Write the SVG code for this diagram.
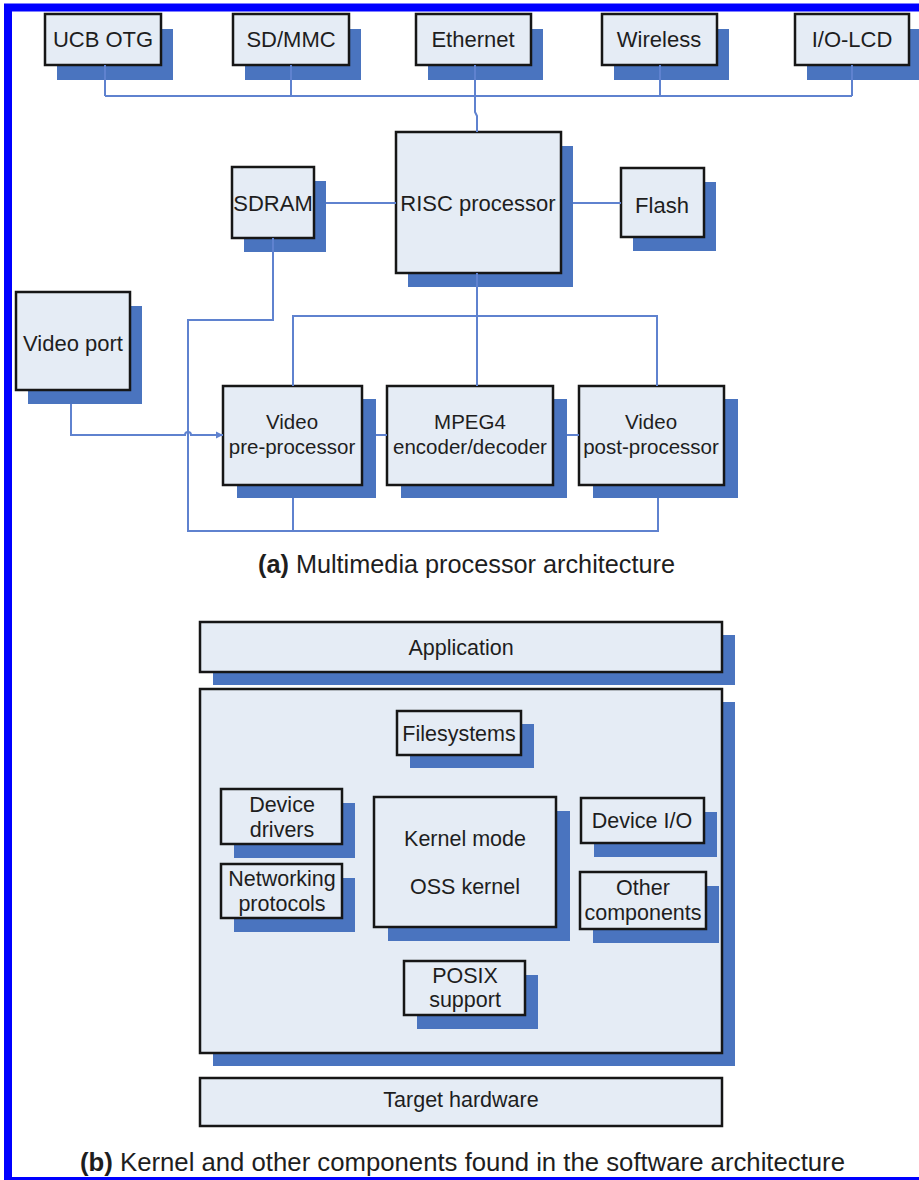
<svg xmlns="http://www.w3.org/2000/svg" width="919" height="1180" viewBox="0 0 919 1180">
  <defs>
    <style>
      .sh { fill: #4a74bf; }
      .bx { fill: #e5ecf5; stroke: #161616; stroke-width: 2.5; }
      .t22 { font-family: "Liberation Sans", Arial, sans-serif; font-size: 22px; fill: #1e1e1e; text-anchor: middle; }
      .t20 { font-family: "Liberation Sans", Arial, sans-serif; font-size: 20.5px; fill: #1e1e1e; text-anchor: middle; }
      .t21 { font-family: "Liberation Sans", Arial, sans-serif; font-size: 21.5px; fill: #1e1e1e; text-anchor: middle; }
      .cap { font-family: "Liberation Sans", Arial, sans-serif; font-size: 25px; fill: #1e1e1e; }
      .ln { fill: none; stroke: #5f82cf; stroke-width: 2; }
    </style>
    <marker id="arr" markerWidth="8" markerHeight="8" refX="7" refY="4" orient="auto" markerUnits="userSpaceOnUse">
      <path d="M0,0.5 L7,4 L0,7.5 Z" fill="#5f82cf"/>
    </marker>
  </defs>

  <!-- page background and frame -->
  <rect x="0" y="0" width="919" height="1180" fill="#ffffff"/>
  <rect x="8" y="7.5" width="930" height="1173.5" fill="none" stroke="#0000ff" stroke-width="8"/>

  <!-- (a) multimedia processor architecture -->
  <g id="ucb-otg">
    <rect class="sh" x="57" y="29" width="116" height="51"/>
    <rect class="bx" x="45" y="14" width="116" height="51"/>
    <text class="t22" x="103" y="47">UCB OTG</text>
  </g>
  <g id="sd-mmc">
    <rect class="sh" x="245" y="29" width="116" height="51"/>
    <rect class="bx" x="233" y="14" width="116" height="51"/>
    <text class="t22" x="291" y="47">SD/MMC</text>
  </g>
  <g id="ethernet">
    <rect class="sh" x="428" y="29" width="115" height="51"/>
    <rect class="bx" x="416" y="14" width="115" height="51"/>
    <text class="t22" x="473" y="47">Ethernet</text>
  </g>
  <g id="wireless">
    <rect class="sh" x="614" y="29" width="115" height="51"/>
    <rect class="bx" x="602" y="14" width="115" height="51"/>
    <text class="t22" x="659" y="47">Wireless</text>
  </g>
  <g id="io-lcd">
    <rect class="sh" x="807" y="29" width="114" height="51"/>
    <rect class="bx" x="795" y="14" width="114" height="51"/>
    <text class="t22" x="852" y="47">I/O-LCD</text>
  </g>

  <g id="sdram">
    <rect class="sh" x="244" y="181" width="82" height="71"/>
    <rect class="bx" x="232" y="167" width="82" height="71"/>
    <text class="t22" x="273" y="211">SDRAM</text>
  </g>
  <g id="risc">
    <rect class="sh" x="408" y="146" width="165" height="141"/>
    <rect class="bx" x="396" y="132" width="165" height="141"/>
    <text class="t22" x="478" y="211">RISC processor</text>
  </g>
  <g id="flash">
    <rect class="sh" x="633" y="182" width="83" height="69"/>
    <rect class="bx" x="621" y="168" width="83" height="69"/>
    <text class="t22" x="662" y="213">Flash</text>
  </g>

  <g id="video-port">
    <rect class="sh" x="28" y="306" width="114" height="98"/>
    <rect class="bx" x="16" y="292" width="114" height="98"/>
    <text class="t22" x="73" y="351">Video port</text>
  </g>
  <g id="pre-processor">
    <rect class="sh" x="237" y="399" width="139" height="99"/>
    <rect class="bx" x="223" y="386" width="139" height="99"/>
    <text class="t20" x="292" y="429">Video</text>
    <text class="t20" x="292" y="454">pre-processor</text>
  </g>
  <g id="mpeg4">
    <rect class="sh" x="401" y="399" width="166" height="99"/>
    <rect class="bx" x="387" y="386" width="166" height="99"/>
    <text class="t20" x="470" y="429">MPEG4</text>
    <text class="t20" x="470" y="454">encoder/decoder</text>
  </g>
  <g id="post-processor">
    <rect class="sh" x="593" y="399" width="145" height="99"/>
    <rect class="bx" x="579" y="386" width="145" height="99"/>
    <text class="t20" x="651" y="429">Video</text>
    <text class="t20" x="651" y="454">post-processor</text>
  </g>

  <g id="connectors">
    <!-- peripheral bus -->
    <path class="ln" d="M105,65 V96 M291,65 V96 M660,65 V96 M852,65 V96 M105,96 H852"/>
    <path class="ln" d="M475,65 V112 L477,116 V132"/>
    <!-- memories -->
    <path class="ln" d="M326,203 H396 M573,203 H621"/>
    <!-- SDRAM to video loop -->
    <path class="ln" d="M273,238 V320 H188 V531 H658 V498 M293,498 V531"/>
    <!-- processor to video bus -->
    <path class="ln" d="M477,273 V386 M293,386 V316 H657 V386"/>
    <!-- video chain -->
    <path class="ln" d="M376,435 H387 M567,435 H579"/>
    <path class="ln" d="M71,404 V435 H185 A3,3 0 0 1 191,435 H223" marker-end="url(#arr)"/>
  </g>

  <text id="caption-a" class="cap" x="258" y="573" textLength="417" lengthAdjust="spacingAndGlyphs"><tspan font-weight="bold">(a)</tspan> Multimedia processor architecture</text>

  <!-- (b) software architecture -->
  <g id="application">
    <rect class="sh" x="213" y="635" width="522" height="50"/>
    <rect class="bx" x="200" y="622" width="522" height="50"/>
    <text class="t21" x="461" y="655">Application</text>
  </g>
  <g id="kernel-space">
    <rect class="sh" x="213" y="702" width="522" height="364"/>
    <rect class="bx" x="200" y="689" width="522" height="364"/>
  </g>
  <g id="filesystems">
    <rect class="sh" x="410" y="724" width="124" height="44"/>
    <rect class="bx" x="397" y="711" width="124" height="44"/>
    <text class="t21" x="459" y="741">Filesystems</text>
  </g>
  <g id="device-drivers">
    <rect class="sh" x="234" y="803" width="121" height="55"/>
    <rect class="bx" x="221" y="789" width="121" height="55"/>
    <text class="t21" x="282" y="812">Device</text>
    <text class="t21" x="282" y="837">drivers</text>
  </g>
  <g id="networking">
    <rect class="sh" x="234" y="878" width="121" height="54"/>
    <rect class="bx" x="221" y="864" width="121" height="54"/>
    <text class="t21" x="282" y="886">Networking</text>
    <text class="t21" x="282" y="911">protocols</text>
  </g>
  <g id="oss-kernel">
    <rect class="sh" x="388" y="811" width="182" height="130"/>
    <rect class="bx" x="374" y="797" width="182" height="130"/>
    <text class="t21" x="465" y="846">Kernel mode</text>
    <text class="t21" x="465" y="894">OSS kernel</text>
  </g>
  <g id="device-io">
    <rect class="sh" x="594" y="812" width="123" height="45"/>
    <rect class="bx" x="581" y="798" width="123" height="45"/>
    <text class="t21" x="642" y="828">Device I/O</text>
  </g>
  <g id="other-components">
    <rect class="sh" x="593" y="886" width="126" height="57"/>
    <rect class="bx" x="580" y="872" width="126" height="57"/>
    <text class="t21" x="643" y="895">Other</text>
    <text class="t21" x="643" y="920">components</text>
  </g>
  <g id="posix">
    <rect class="sh" x="417" y="975" width="121" height="54"/>
    <rect class="bx" x="404" y="961" width="121" height="54"/>
    <text class="t21" x="465" y="983">POSIX</text>
    <text class="t21" x="465" y="1007">support</text>
  </g>
  <g id="target-hardware">
    <rect class="bx" x="200" y="1078" width="522" height="48"/>
    <text class="t21" x="461" y="1107">Target hardware</text>
  </g>

  <text id="caption-b" class="cap" x="80" y="1171" textLength="765" lengthAdjust="spacingAndGlyphs"><tspan font-weight="bold">(b)</tspan> Kernel and other components found in the software architecture</text>
</svg>
